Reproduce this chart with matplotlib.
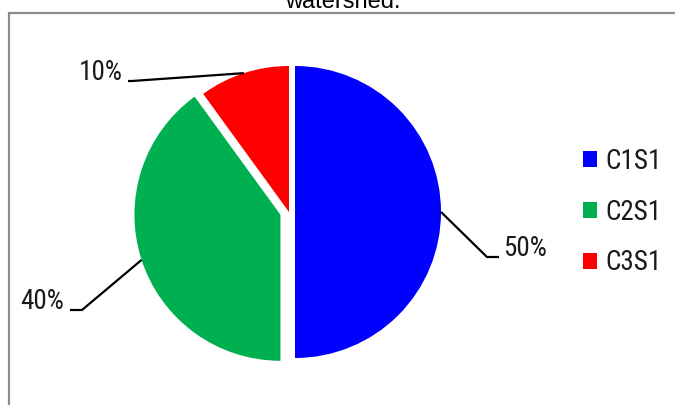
import numpy as np
import matplotlib
matplotlib.use('Agg')
from matplotlib import pyplot as plt
from matplotlib import font_manager
from matplotlib.patches import Rectangle

# data
categories = ['C1S1', 'C2S1', 'C3S1']
shares = [50, 40, 10]
colors = ['#0000FF', '#00B050', '#FF0000']

W, H = 675, 405

# narrow face if one is installed, else plain Liberation Sans a bit smaller
installed = set(f.name for f in font_manager.fontManager.ttflist)
NARROW, LBL_SIZE = ['Liberation Sans', 'DejaVu Sans'], 16
for name in ['Liberation Sans Narrow', 'Arial Narrow', 'Roboto Condensed',
             'Open Sans Condensed', 'DejaVu Sans Condensed']:
    if name in installed:
        NARROW, LBL_SIZE = [name, 'DejaVu Sans'], 19.5
        break


def py(y):
    # pixel row (from top) -> data y (from bottom)
    return H - y


fig = plt.figure(figsize=(W / 100.0, H / 100.0), dpi=100)
ax = fig.add_axes([0, 0, 1, 1])

wedges, _ = ax.pie(shares, colors=colors, startangle=90, counterclock=False,
                   center=(289, py(212)), radius=146, explode=[6, 9, 0],
                   wedgeprops=dict(linewidth=0), frame=True)
ax.set_xlim(0, W)
ax.set_ylim(0, H)
ax.set_aspect('equal')
ax.axis('off')

# grey outer frame of the chart area, runs off the right/bottom edge
ax.add_patch(Rectangle((9, py(H + 10)), W + 10, H - 3, fill=False,
                       edgecolor='#8c8c8c', linewidth=1.6, clip_on=False))

# leader lines: (elbow, line end, text x, text alignment)
layout = [
    ((487, 257), (499, 257), 503, 'left'),
    ((82, 310), (70, 310), 64, 'right'),
    ((132, 81), (128, 81), 123, 'right'),
]
for w, share, (elbow, end, tx, ha) in zip(wedges, shares, layout):
    mid = np.deg2rad((w.theta1 + w.theta2) / 2.0)
    cx, cy = w.center
    x0 = cx + w.r * np.cos(mid)
    y0 = cy + w.r * np.sin(mid)
    ax.plot([x0, elbow[0], end[0]], [y0, py(elbow[1]), py(end[1])],
            color='black', linewidth=1.6, solid_capstyle='butt')
    ax.text(tx, py(end[1]) + 1, '%d%%' % share, ha=ha, va='baseline',
            fontsize=LBL_SIZE, family=NARROW, color='#1a1a1a')

leg = ax.legend(wedges, categories, loc='center left',
                bbox_to_anchor=(583.0 / W, 1 - 212.0 / H),
                frameon=False, borderpad=0, borderaxespad=0,
                handlelength=0.56 * 18 / LBL_SIZE,
                handleheight=0.56 * 18 / LBL_SIZE,
                handletextpad=0.32 * 18 / LBL_SIZE,
                labelspacing=0.95 * 18 / LBL_SIZE,
                prop=dict(family=NARROW, size=LBL_SIZE))
for t in leg.get_texts():
    t.set_color('#1a1a1a')

fig.text(343.0 / W, 1 - 8.0 / H, 'watershed.', ha='center', va='baseline',
         fontsize=17, family=['Liberation Sans', 'DejaVu Sans'])

fig.savefig('out.png', dpi=100)
